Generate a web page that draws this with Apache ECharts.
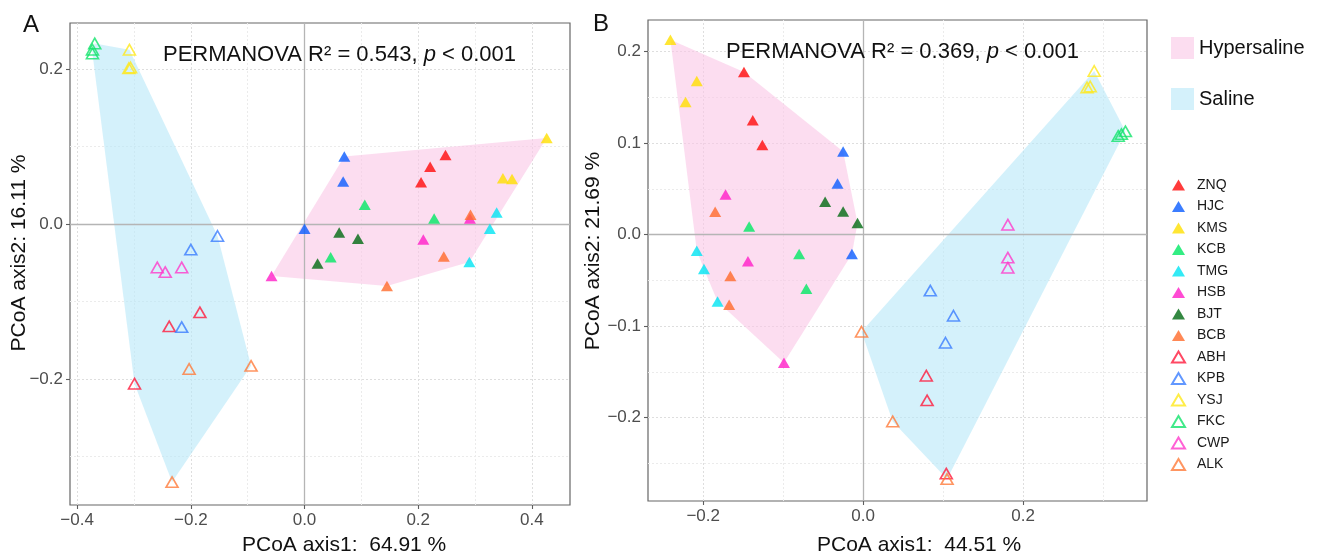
<!DOCTYPE html>
<html><head><meta charset="utf-8">
<script src="https://cdn.jsdelivr.net/npm/echarts@6/dist/echarts.min.js"></script>
<style>html,body{margin:0;padding:0;background:#fff}#c{width:1326px;height:557px}</style>
</head><body><div id="c"></div><script>
// ---------- data ----------
const GROUPS = ['ZNQ','HJC','KMS','KCB','TMG','HSB','BJT','BCB','ABH','KPB','YSJ','FKC','CWP','ALK'];
const HYPERSALINE = ['ZNQ','HJC','KMS','KCB','TMG','HSB','BJT','BCB'];
const SALINE = ['ABH','KPB','YSJ','FKC','CWP','ALK'];
const COLORS = ['#ff0a0a','#0a5cff','#ffe000','#00e864','#00e5f2','#ff1ec8','#006a12','#ff6a2a',
                '#ff1a3c','#3a7dff','#ffe81a','#12e46c','#ff3acb','#ff7a3a'];

// Panel A
const A_ZNQ = [[0.248,0.089],[0.221,0.074],[0.205,0.054]];
const A_HJC = [[0.070,0.087],[0.068,0.055],[0.000,-0.006]];
const A_KMS = [[0.426,0.111],[0.349,0.059],[0.365,0.058]];
const A_KCB = [[0.106,0.025],[0.228,0.007],[0.046,-0.043]];
const A_TMG = [[0.338,0.015],[0.326,-0.006],[0.290,-0.049]];
const A_HSB = [[0.291,0.007],[0.209,-0.020],[-0.058,-0.067]];
const A_BJT = [[0.061,-0.011],[0.094,-0.019],[0.023,-0.051]];
const A_BCB = [[0.292,0.012],[0.245,-0.042],[0.145,-0.080]];
const A_ABH = [[-0.184,-0.114],[-0.238,-0.132],[-0.299,-0.206]];
const A_KPB = [[-0.153,-0.0155],[-0.200,-0.033],[-0.216,-0.133]];
const A_YSJ = [[-0.308,0.225],[-0.309,0.201],[-0.306,0.202]];
const A_FKC = [[-0.369,0.233],[-0.373,0.225],[-0.373,0.220]];
const A_CWP = [[-0.259,-0.056],[-0.245,-0.062],[-0.216,-0.056]];
const A_ALK = [[-0.203,-0.187],[-0.094,-0.183],[-0.233,-0.333]];

// Panel B
const B_ZNQ = [[-0.149,0.178],[-0.138,0.125],[-0.126,0.098]];
const B_HJC = [[-0.025,0.091],[-0.032,0.056],[-0.014,-0.021]];
const B_KMS = [[-0.241,0.213],[-0.208,0.168],[-0.222,0.145]];
const B_KCB = [[-0.1425,0.009],[-0.080,-0.021],[-0.071,-0.059]];
const B_TMG = [[-0.208,-0.0175],[-0.199,-0.0375],[-0.182,-0.073]];
const B_HSB = [[-0.172,0.044],[-0.144,-0.029],[-0.099,-0.140]];
const B_BJT = [[-0.0475,0.036],[-0.025,0.0255],[-0.007,0.0128]];
const B_BCB = [[-0.185,0.025],[-0.166,-0.045],[-0.1675,-0.0765]];
const B_ABH = [[0.079,-0.154],[0.080,-0.181],[0.104,-0.261]];
const B_KPB = [[0.084,-0.061],[0.113,-0.0885],[0.103,-0.118]];
const B_YSJ = [[0.289,0.179],[0.280,0.161],[0.284,0.162]];
const B_FKC = [[0.319,0.108],[0.323,0.110],[0.328,0.113]];
const B_CWP = [[0.181,0.011],[0.181,-0.025],[0.181,-0.036]];
const B_ALK = [[-0.002,-0.106],[0.037,-0.204],[0.105,-0.267]];

const PANEL_A = [A_ZNQ,A_HJC,A_KMS,A_KCB,A_TMG,A_HSB,A_BJT,A_BCB,A_ABH,A_KPB,A_YSJ,A_FKC,A_CWP,A_ALK];
const PANEL_B = [B_ZNQ,B_HJC,B_KMS,B_KCB,B_TMG,B_HSB,B_BJT,B_BCB,B_ABH,B_KPB,B_YSJ,B_FKC,B_CWP,B_ALK];

// tick labels and gridlines
const A_X_TICKS = [-0.4,-0.2,0,0.2,0.4];
const A_Y_TICKS = [-0.2,0,0.2];
const A_X_MINOR = [-0.3,-0.1,0.1,0.3];
const A_Y_MINOR = [-0.3,-0.1,0.1];
const B_X_TICKS = [-0.2,0,0.2];
const B_Y_TICKS = [-0.2,-0.1,0,0.1,0.2];
const B_X_MINOR = [-0.1,0.1,0.3];
const B_Y_MINOR = [-0.25,-0.15,-0.05,0.05,0.15];

const A_TITLE_X = 'PCoA axis1:  64.91 %';
const A_TITLE_Y = 'PCoA axis2: 16.11 %';
const B_TITLE_X = 'PCoA axis1:  44.51 %';
const B_TITLE_Y = 'PCoA axis2: 21.69 %';
const A_R2 = '0.543';
const B_R2 = '0.369';

// ---------- helpers ----------
const FONT = '"Liberation Sans", Arial, Helvetica, sans-serif';
const HULL_COLORS = {Hypersaline: 'rgba(250,200,230,0.62)', Saline: 'rgba(185,232,248,0.62)'};

function hull(pts) {
  const p = pts.slice().sort((a,b)=>a[0]-b[0]||a[1]-b[1]);
  const cross=(o,a,b)=>(a[0]-o[0])*(b[1]-o[1])-(a[1]-o[1])*(b[0]-o[0]);
  const lo=[],up=[];
  for (const q of p){while(lo.length>=2&&cross(lo[lo.length-2],lo[lo.length-1],q)<=0)lo.pop();lo.push(q);}
  for (let i=p.length-1;i>=0;i--){const q=p[i];while(up.length>=2&&cross(up[up.length-2],up[up.length-1],q)<=0)up.pop();up.push(q);}
  lo.pop();up.pop();return lo.concat(up);
}
const fmt = v => (v < 0 ? '\u2212' : '') + Math.abs(v).toFixed(1);

function axisCommon(ticks) {
  return {
    type: 'value',
    axisLine: {show: false, onZero: false},
    axisTick: {show: true, length: 4, customValues: ticks, lineStyle: {color: '#5e5e5e', width: 1.1}},
    axisLabel: {customValues: ticks, formatter: fmt, color: '#4d4d4d', fontSize: 17, fontFamily: FONT, margin: 7},
    splitLine: {show: false}
  };
}

const series = [];
function buildPanel(p, data, xMajor, yMajor, xMinor, yMinor) {
  const gl = [];
  xMajor.filter(v=>v!==0).forEach(v=>gl.push({xAxis:v, lineStyle:{color:'#dedede', width:1, type:[2,2]}}));
  yMajor.filter(v=>v!==0).forEach(v=>gl.push({yAxis:v, lineStyle:{color:'#dedede', width:1, type:[2,2]}}));
  xMinor.forEach(v=>gl.push({xAxis:v, lineStyle:{color:'#ebebeb', width:1, type:[2,2]}}));
  yMinor.forEach(v=>gl.push({yAxis:v, lineStyle:{color:'#ebebeb', width:1, type:[2,2]}}));
  series.push({type:'scatter', name:'_grid'+p, xAxisIndex:p, yAxisIndex:p, data:[], silent:true,
    markLine:{silent:true, z:1, symbol:['none','none'], label:{show:false}, animation:false, data:gl}});
  [['Hypersaline',HYPERSALINE],['Saline',SALINE]].forEach(([nm, members])=>{
    const pts = [];
    members.forEach(g=>{ data[GROUPS.indexOf(g)].forEach(q=>pts.push(q)); });
    const h = hull(pts);
    series.push({type:'custom', name:nm, xAxisIndex:p, yAxisIndex:p, z:2, silent:true,
      itemStyle:{color:HULL_COLORS[nm]},
      data:[h[0]],
      renderItem:(params, api)=>({type:'polygon', shape:{points:h.map(q=>api.coord(q))},
        style:{fill:HULL_COLORS[nm]}})});
  });
  series.push({type:'scatter', name:'_zero'+p, xAxisIndex:p, yAxisIndex:p, data:[], silent:true,
    markLine:{silent:true, z:3, symbol:['none','none'], label:{show:false}, animation:false,
      lineStyle:{color:'#b5b5b5', width:1.3, type:'solid'}, data:[{xAxis:0},{yAxis:0}]}});
  GROUPS.forEach((g,i)=>{
    const hollow = SALINE.includes(g);
    series.push({type:'scatter', name:g, xAxisIndex:p, yAxisIndex:p, z:4,
      symbol:'triangle', symbolSize: [12,10.5],
      itemStyle: hollow ? {color:'rgba(0,0,0,0)', borderColor:COLORS[i], borderWidth:1.6}
                        : {color:COLORS[i], borderWidth:0},
      data: data[i]});
  });
}
buildPanel(0, PANEL_A, A_X_TICKS, A_Y_TICKS, A_X_MINOR, A_Y_MINOR);
buildPanel(1, PANEL_B, B_X_TICKS, B_Y_TICKS, B_X_MINOR, B_Y_MINOR);

function txt(x, y, text, size, extra) {
  return Object.assign({type:'text', x, y, silent:true, z:100,
    style:Object.assign({text, fontSize:size, fontFamily:FONT, fill:'#111', align:'left', verticalAlign:'middle'}, extra||{})});
}
function permanova(x, y, r2) {
  return {type:'text', x, y, silent:true, z:100, style:{
    text:'{n|PERMANOVA R\u00b2 = ' + r2 + ', }{i|p}{n| < 0.001}', verticalAlign:'middle', align:'left',
    rich:{n:{fontSize:22, fontFamily:FONT, fill:'#111', color:'#111'},
          i:{fontSize:22, fontFamily:FONT, fontStyle:'italic', fill:'#111', color:'#111'}}}};
}

const option = {
  animation:false,
  backgroundColor:'#fff',
  grid:[
    {left:70, top:23, width:500, height:482, show:true, borderColor:'#666', borderWidth:1.2, containLabel:false},
    {left:648, top:20, width:499, height:481, show:true, borderColor:'#666', borderWidth:1.2, containLabel:false}
  ],
  xAxis:[
    Object.assign(axisCommon(A_X_TICKS), {gridIndex:0, min:-0.4125, max:0.467}),
    Object.assign(axisCommon(B_X_TICKS), {gridIndex:1, min:-0.269, max:0.355})
  ],
  yAxis:[
    Object.assign(axisCommon(A_Y_TICKS), {gridIndex:0, min:-0.3626, max:0.2594}),
    Object.assign(axisCommon(B_Y_TICKS), {gridIndex:1, min:-0.291, max:0.2347})
  ],
  legend:[
    {orient:'vertical', left:1171, top:37, padding:0, itemWidth:23, itemHeight:22, itemGap:29, icon:'rect',
     selectedMode:false, data:['Hypersaline','Saline'],
     textStyle:{fontSize:20, fontFamily:FONT, color:'#111'}},
    {orient:'vertical', left:1171, top:178, padding:0, itemWidth:13, itemHeight:11, itemGap:7.5,
     selectedMode:false, data:GROUPS,
     textStyle:{fontSize:14, fontFamily:FONT, color:'#1a1a1a', padding:[0,0,0,7]}}
  ],
  graphic:[
    txt(23, 25, 'A', 24),
    txt(593, 24, 'B', 24),
    permanova(163, 55, A_R2),
    permanova(726, 52, B_R2),
    txt(242, 545, A_TITLE_X, 21),
    txt(817, 545, B_TITLE_X, 21),
    txt(19, 253, A_TITLE_Y, 21, {align:'center'}),
    txt(593, 251, B_TITLE_Y, 21, {align:'center'})
  ],
  series
};
option.graphic[6].rotation = Math.PI/2;
option.graphic[7].rotation = Math.PI/2;

const chart = echarts.init(document.getElementById('c'), null, {renderer:'canvas'});
chart.setOption(option);
</script></body></html>
